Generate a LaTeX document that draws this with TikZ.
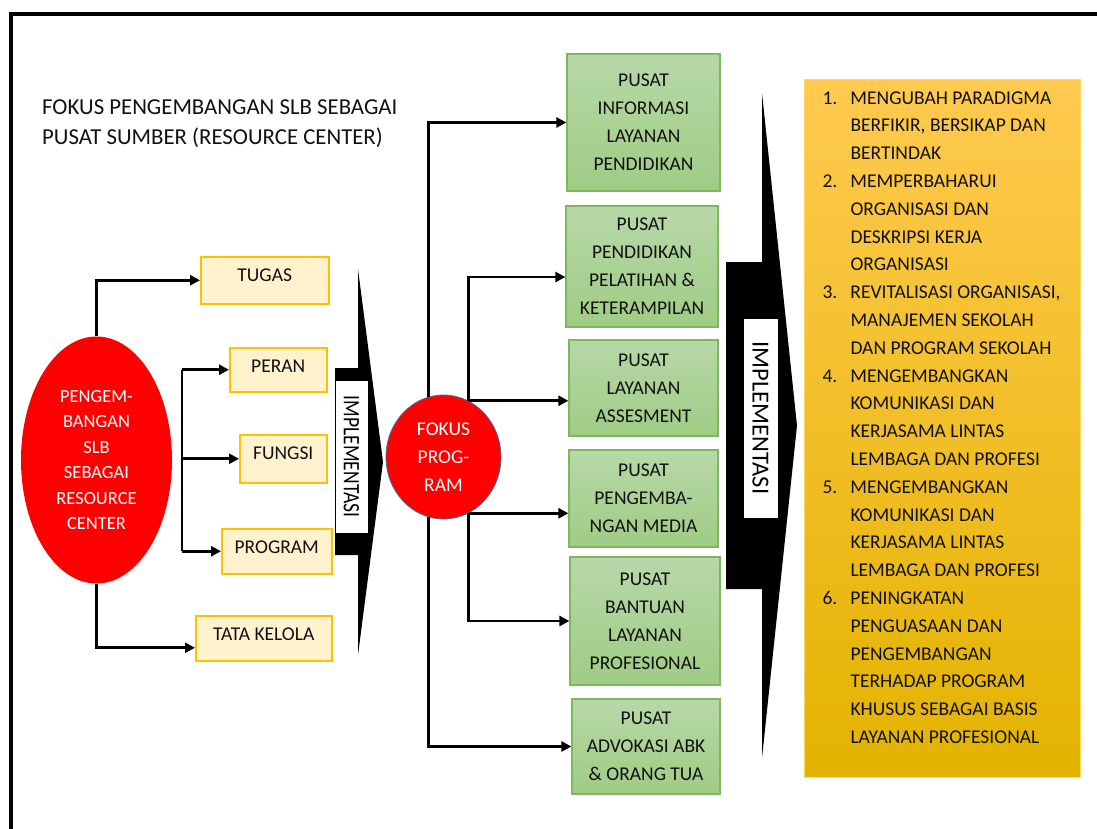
\documentclass[tikz,border=0pt]{standalone}
\usepackage{fontspec}
\setmainfont{Carlito}
\usetikzlibrary{arrows.meta,calc,shapes.geometric}
\definecolor{ink}{HTML}{111111}
\definecolor{redfill}{HTML}{FF0000}
\definecolor{circedge}{HTML}{41719C}
\definecolor{ylfill}{HTML}{FFF2CC}
\definecolor{yledge}{HTML}{FFC000}
\definecolor{gtop}{HTML}{B7D8A8}
\definecolor{gbot}{HTML}{9FCC84}
\definecolor{gedge}{HTML}{7DB85E}
\definecolor{otop}{HTML}{FFCA4F}
\definecolor{omid}{HTML}{FFC000}
\definecolor{obot}{HTML}{E3B300}
\definecolor{oedge}{HTML}{FFD65C}
\newcommand\listnum[1]{\leavevmode\llap{\makebox[28pt][l]{#1}}}
\begin{document}
\begin{tikzpicture}[x=1pt,y=-1pt,
  txt/.style={font=\fontsize{19.5}{28}\selectfont, text=ink},
  ybox/.style={txt, draw=yledge, fill=ylfill, line width=1.5pt, inner sep=0pt, text height=25pt, anchor=north west},
  gbox/.style={txt, draw=gedge, line width=1.2pt, top color=gtop, bottom color=gbot, inner sep=0pt, align=center},
  conn/.style={line width=2.6pt, draw=black},
  arr/.style={conn, -{Triangle[length=10pt,width=10pt]}},
  lbl/.style={draw=black, line width=1pt, fill=white, inner sep=0pt, rotate=-90, text=black},
  bigarrow/.style={fill=black},
]
\useasboundingbox (0,0) rectangle (1097,828);
% frame
\draw[line width=4.5pt] (11,840) -- (11,14) -- (1110,14);

% title
\node[txt, font=\fontsize{22.8}{29}\selectfont, anchor=north west, align=left, inner sep=0pt] (title) at (42,100)
  {FOKUS PENGEMBANGAN SLB SEBAGAI\\PUSAT SUMBER (RESOURCE CENTER)};

% left ellipse
\node[ellipse, fill=redfill, minimum width=151pt, minimum height=247pt, inner sep=0pt, align=center,
      text=white, font=\fontsize{18.5}{25.5}\selectfont] (pslb) at (96.5,460)
  {PENGEM-\\BANGAN\\SLB\\SEBAGAI\\RESOURCE\\CENTER};

% yellow boxes
\node[ybox, minimum width=128pt, text depth=22pt] (tugas) at (200,256) {TUGAS};
\node[ybox, minimum width=97pt, text depth=19pt] (peran) at (229,347) {PERAN};
\node[ybox, minimum width=87pt, text depth=23pt] (fungsi) at (239,434) {FUNGSI};
\node[ybox, minimum width=110pt, text depth=20pt] (program) at (221,528) {PROGRAM};
\node[ybox, minimum width=136pt, text depth=20pt] (tata) at (195,615) {TATA KELOLA};

% left connectors
\coordinate (bx) at (182,458);
\draw[arr] (pslb.north) |- (tugas.west);
\draw[arr] (pslb.south) |- ([yshift=-9.5pt]tata.west);
\draw[conn] (bx |- peran.west) -- (bx |- program.west);
\draw[arr] (bx |- peran.west) -- (peran.west);
\draw[arr] (bx |- fungsi.west) -- (fungsi.west);
\draw[arr] (bx |- program.west) -- (program.west);

% left big arrow
\fill[bigarrow] (335,368) -- (358,368) -- (358,269) -- (383,462) -- (358,655) -- (358,555) -- (335,555) -- cycle;
\node[lbl, minimum width=153pt, minimum height=33pt, font=\fontsize{23.5}{28}\selectfont] (impl1) at (351.5,456.5)
  {\scalebox{0.83}[1]{IMPLEMENTASI}};

% focus circle
\node[ellipse, fill=redfill, draw=circedge, line width=0.8pt, minimum width=115pt, minimum height=124pt,
      inner sep=0pt, align=center, text=white, font=\fontsize{19.5}{28}\selectfont] (fokus) at (443.5,457)
  {FOKUS\\PROG-\\RAM};

% green boxes
\node[gbox, minimum width=153pt, minimum height=137pt] (g1) at (643.5,122.5) {PUSAT\\INFORMASI\\LAYANAN\\PENDIDIKAN};
\node[gbox, minimum width=152pt, minimum height=121pt] (g2) at (642,266.5) {PUSAT\\PENDIDIKAN\\PELATIHAN \&\\KETERAMPILAN};
\node[gbox, minimum width=149pt, minimum height=96pt] (g3) at (643.5,388) {PUSAT\\LAYANAN\\ASSESMENT};
\node[gbox, minimum width=149pt, minimum height=97pt] (g4) at (643.5,498.5) {PUSAT\\PENGEMBA-\\NGAN MEDIA};
\node[gbox, minimum width=150pt, minimum height=128pt] (g5) at (645,621) {PUSAT\\BANTUAN\\LAYANAN\\PROFESIONAL};
\node[gbox, minimum width=148pt, minimum height=95pt] (g6) at (646,746.5) {PUSAT\\ADVOKASI ABK\\\& ORANG TUA};

% right connectors
\draw[arr] (fokus.104) |- (g1.west);
\draw[arr] (fokus.66) |- ([yshift=-10.5pt]g2.west);
\draw[arr] (fokus.66) -- (fokus.66 -| g3.west);
\draw[arr] (fokus.-66) -- (fokus.-66 -| g4.west);
\draw[arr] (fokus.-66) |- (g5.west);
\draw[arr] (fokus.-104) |- (g6.west);

% right big arrow
\fill[bigarrow] (726,262) -- (762,262) -- (762,93) -- (797,425.5) -- (762,758) -- (762,589) -- (726,589) -- cycle;
\node[lbl, minimum width=200pt, minimum height=35pt, font=\fontsize{24.5}{28}\selectfont] (impl2) at (760.5,418)
  {IMPLEMENTASI};

% orange list
\node[draw=oedge, line width=1pt, top color=otop, middle color=omid, bottom color=obot, inner sep=0pt,
      anchor=north west] (list) at (804,79)
{\begin{minipage}[c][698pt][t]{276pt}%
\fontsize{19.5}{27.8}\selectfont\color{ink}\raggedright\parskip=0pt\parindent=0pt\leftskip=46pt
\vspace*{12pt}
\listnum{1.}MENGUBAH PARADIGMA\\
BERFIKIR, BERSIKAP DAN\\
BERTINDAK\\
\listnum{2.}MEMPERBAHARUI\\
ORGANISASI DAN\\
DESKRIPSI KERJA\\
ORGANISASI\\
\listnum{3.}REVITALISASI ORGANISASI,\\
MANAJEMEN SEKOLAH\\
DAN PROGRAM SEKOLAH\\
\listnum{4.}MENGEMBANGKAN\\
KOMUNIKASI DAN\\
KERJASAMA LINTAS\\
LEMBAGA DAN PROFESI\\
\listnum{5.}MENGEMBANGKAN\\
KOMUNIKASI DAN\\
KERJASAMA LINTAS\\
LEMBAGA DAN PROFESI\\
\listnum{6.}PENINGKATAN\\
PENGUASAAN DAN\\
PENGEMBANGAN\\
TERHADAP PROGRAM\\
KHUSUS SEBAGAI BASIS\\
LAYANAN PROFESIONAL\par
\end{minipage}};
\end{tikzpicture}
\end{document}
